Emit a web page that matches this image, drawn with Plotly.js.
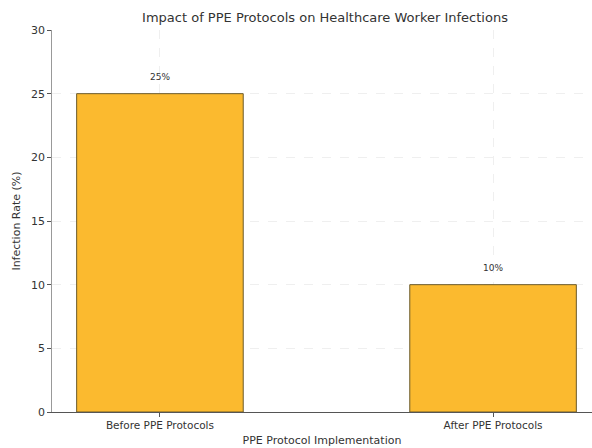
<!DOCTYPE html>
<html>
<head>
<meta charset="utf-8">
<script src="https://cdn.plot.ly/plotly-3.0.1.min.js"></script>
<style>html,body{margin:0;padding:0;background:#fff;}#chart{width:592px;height:448px;}</style>
</head>
<body>
<div id="chart"></div>
<script>
// Infection rates before and after PPE protocol rollout
const categories = ["Before PPE Protocols", "After PPE Protocols"];
const infectionRates = [25, 10];
const valueLabels = infectionRates.map(v => v + "%");
const yTicks = [0, 5, 10, 15, 20, 25, 30];

const font = "DejaVu Sans, sans-serif";

const trace = {
  type: "bar",
  x: [0, 1],
  y: infectionRates,
  width: 0.5,
  marker: { color: "#FBBA2F", line: { color: "#6b5a2a", width: 1 } },
  hoverinfo: "skip"
};

const annotations = infectionRates.map((v, i) => ({
  x: i, y: v, xref: "x", yref: "y",
  text: valueLabels[i], showarrow: false,
  yshift: 17, font: { family: font, size: 9, color: "#333" }
}));

const layout = {
  width: 592, height: 448,
  margin: { l: 52, r: 0, t: 30, b: 36 },
  paper_bgcolor: "#fff", plot_bgcolor: "#fff",
  showlegend: false,
  title: {
    text: "Impact of PPE Protocols on Healthcare Worker Infections",
    font: { family: font, size: 13, color: "#333" },
    x: 0.549, xanchor: "center", y: 0.96, yanchor: "middle"
  },
  xaxis: {
    range: [-0.324, 1.297],
    tickvals: [0, 1], ticktext: categories,
    tickfont: { family: font, size: 10.5, color: "#333" },
    ticks: "outside", ticklen: 3.5, tickcolor: "#555",
    showline: true, linecolor: "#555", linewidth: 1,
    showgrid: true, gridcolor: "#efefef", griddash: "dash", gridwidth: 1,
    zeroline: false,
    title: { text: "PPE Protocol Implementation", standoff: 6,
             font: { family: font, size: 11, color: "#333" } }
  },
  yaxis: {
    range: [0, 30],
    tickvals: yTicks,
    tickfont: { family: font, size: 11, color: "#333" },
    ticks: "outside", ticklen: 3.5, tickcolor: "#555",
    showline: true, linecolor: "#999", linewidth: 1.2,
    showgrid: true, gridcolor: "#efefef", griddash: "dash", gridwidth: 1,
    zeroline: false,
    title: { text: "Infection Rate (%)", standoff: 8,
             font: { family: font, size: 11, color: "#333" } }
  },
  annotations: annotations
};

Plotly.newPlot("chart", [trace], layout, { staticPlot: true, displayModeBar: false });
</script>
</body>
</html>
